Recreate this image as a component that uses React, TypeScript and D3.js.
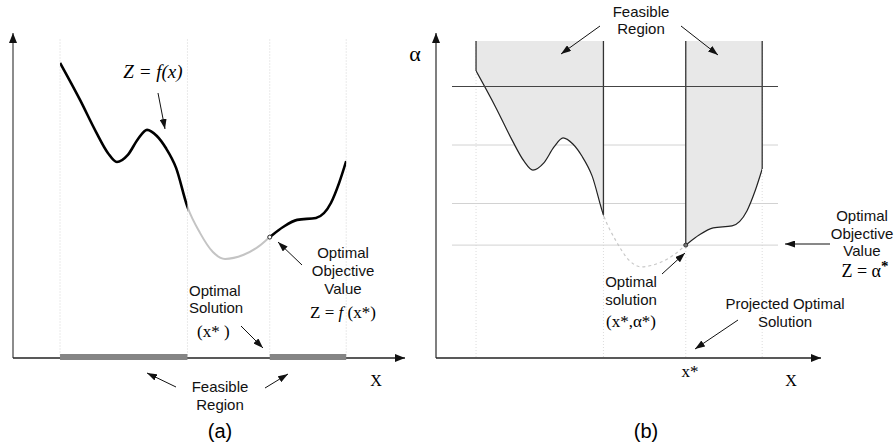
import * as d3 from "d3";

// curve z = f(x), abstract units 0..100 on both axes
const curveX = [12, 17.1, 21.2, 24.2, 26.5, 29.3, 31.9, 34.2, 36.7, 39.0, 41.6, 44.5, 47.7, 51.0, 54.1, 58.7, 62.5, 65.5, 68.9, 72.5, 77.3, 81.1, 83.2, 85];
const curveY = [90.8, 79.4, 69.5, 63.1, 60.3, 62.5, 67.4, 70.2, 68.3, 64.6, 58.5, 46.5, 38.5, 32.6, 30.5, 31.7, 34.2, 37.2, 40.3, 42.5, 43.1, 47.7, 53.9, 60.6];
const feasible: [number, number][] = [
  [12, 44.5],
  [65.5, 85],
];
const alphaLevels = [86, 68, 50];
const optimum = { x: 65.5, y: 37.2 };

const W = 896;
const H = 446;
const SANS = "'Liberation Sans', Arial, sans-serif";
const SERIF = "'Liberation Serif', 'Times New Roman', serif";

const points = curveX.map((x, i) => [x, curveY[i]] as [number, number]);
const yAt = (x: number) => (points.find(p => p[0] === x) as [number, number])[1];
const gap: [number, number] = [feasible[0][1], feasible[1][0]];

const xA = d3.scaleLinear().domain([0, 100]).range([13, 405]);
const yA = d3.scaleLinear().domain([0, 100]).range([358, 33]);
const xB = d3.scaleLinear().domain([0, 100]).range([429, 821]);
const yB = d3.scaleLinear().domain([0, 100]).range([366, 41]);

const lineA = d3
  .line<[number, number]>()
  .x(d => xA(d[0]))
  .y(d => yA(d[1]))
  .curve(d3.curveMonotoneX);
const lineB = d3
  .line<[number, number]>()
  .x(d => xB(d[0]))
  .y(d => yB(d[1]))
  .curve(d3.curveMonotoneX);
const areaB = d3
  .area<[number, number]>()
  .x(d => xB(d[0]))
  .y0(yB(100))
  .y1(d => yB(d[1]))
  .curve(d3.curveMonotoneX);

const Arrow = ({ x1, y1, x2, y2 }: { x1: number; y1: number; x2: number; y2: number }) => (
  <line x1={x1} y1={y1} x2={x2} y2={y2} stroke="#111" strokeWidth={1} markerEnd="url(#head)" />
);

const Lines = ({
  x,
  y,
  lines,
  anchor = "middle",
  step = 18,
}: {
  x: number;
  y: number;
  lines: string[];
  anchor?: string;
  step?: number;
}) => (
  <text x={x} y={y} fontFamily={SANS} fontSize={15} textAnchor={anchor} fill="#111">
    {lines.map((l, i) => (
      <tspan key={i} x={x} dy={i === 0 ? 0 : step}>
        {l}
      </tspan>
    ))}
  </text>
);

export default function App() {
  return (
    <svg
      width={W}
      height={H}
      style={{ position: "absolute", left: 0, top: 0, background: "#fff" }}
    >
      <defs>
        <marker id="head" viewBox="0 0 10 7" refX={10} refY={3.5} markerWidth={10} markerHeight={7} markerUnits="userSpaceOnUse" orient="auto">
          <path d="M0,0 L10,3.5 L0,7 Z" fill="#111" />
        </marker>
        <marker id="axisHead" viewBox="0 0 10 8" refX={10} refY={4} markerWidth={10} markerHeight={8} markerUnits="userSpaceOnUse" orient="auto">
          <path d="M0,0 L10,4 L0,8 Z" fill="#111" />
        </marker>
        <clipPath id="feasA">
          {feasible.map(([a, b], i) => (
            <rect key={i} x={xA(a)} y={0} width={xA(b) - xA(a)} height={H} />
          ))}
        </clipPath>
        <clipPath id="gapA">
          <rect x={xA(gap[0])} y={0} width={xA(gap[1]) - xA(gap[0])} height={H} />
        </clipPath>
        <clipPath id="feasB">
          {feasible.map(([a, b], i) => (
            <rect key={i} x={xB(a)} y={0} width={xB(b) - xB(a)} height={H} />
          ))}
        </clipPath>
        <clipPath id="gapB">
          <rect x={xB(gap[0])} y={0} width={xB(gap[1]) - xB(gap[0])} height={H} />
        </clipPath>
      </defs>

      {/* ---------- panel (a) ---------- */}
      {feasible.flat().map((v, i) => (
        <line key={i} x1={xA(v)} x2={xA(v)} y1={yA(98)} y2={yA(0)} stroke="#d4d4d4" strokeWidth={1} strokeDasharray="1,2" />
      ))}
      <line x1={xA(0)} y1={yA(0)} x2={xA(0)} y2={yA(100)} stroke="#666" strokeWidth={1.5} markerEnd="url(#axisHead)" />
      <line x1={xA(0)} y1={yA(0)} x2={xA(100)} y2={yA(0)} stroke="#222" strokeWidth={1.5} markerEnd="url(#axisHead)" />
      {feasible.map(([a, b], i) => (
        <rect key={i} x={xA(a)} y={yA(0) - 4} width={xA(b) - xA(a)} height={6} fill="#858585" />
      ))}
      <path d={lineA(points) as string} fill="none" stroke="#c4c4c4" strokeWidth={2} clipPath="url(#gapA)" />
      <path d={lineA(points) as string} fill="none" stroke="#000" strokeWidth={2.6} clipPath="url(#feasA)" />
      <circle cx={xA(optimum.x)} cy={yA(optimum.y)} r={2} fill="#fff" stroke="#222" strokeWidth={1} />

      <text x={153} y={78} fontFamily={SERIF} fontSize={19} fontStyle="italic" textAnchor="middle">
        Z = f(x)
      </text>
      <Arrow x1={158} y1={93} x2={165} y2={129} />

      <Lines x={343} y={258} lines={["Optimal", "Objective", "Value"]} />
      <text x={343} y={318} fontFamily={SERIF} fontSize={17} textAnchor="middle">
        Z = <tspan fontStyle="italic">f</tspan> (x*)
      </text>
      <Arrow x1={302} y1={265} x2={278} y2={242} />

      <Lines x={189} y={296} lines={["Optimal", "Solution"]} anchor="start" step={17} />
      <text x={197} y={337} fontFamily={SERIF} fontSize={17}>
        (x* )
      </text>
      <Arrow x1={241} y1={326} x2={263} y2={348} />

      <Lines x={220} y={392} lines={["Feasible", "Region"]} />
      <Arrow x1={176} y1={387} x2={147} y2={373} />
      <Arrow x1={265} y1={388} x2={288} y2={374} />

      <text x={376} y={386} fontFamily={SERIF} fontSize={16} textAnchor="middle">
        X
      </text>
      <text x={220} y={438} fontFamily={SANS} fontSize={20} textAnchor="middle">
        (a)
      </text>

      {/* ---------- panel (b) ---------- */}
      {feasible.flat().map((v, i) => (
        <line key={i} x1={xB(v)} x2={xB(v)} y1={yB(100)} y2={358} stroke="#dcdcdc" strokeWidth={1} strokeDasharray="1,2" />
      ))}
      {alphaLevels.slice(1).map((a, i) => (
        <line key={i} x1={452} x2={778} y1={yB(a)} y2={yB(a)} stroke="#d2d2d2" strokeWidth={1} />
      ))}
      <line x1={452} x2={778} y1={yB(optimum.y)} y2={yB(optimum.y)} stroke="#d2d2d2" strokeWidth={1} />

      <path d={areaB(points) as string} fill="#e8e8e8" stroke="none" clipPath="url(#feasB)" />
      <path d={lineB(points) as string} fill="none" stroke="#c8c8c8" strokeWidth={1.2} strokeDasharray="3,3" clipPath="url(#gapB)" />
      <path d={lineB(points) as string} fill="none" stroke="#222" strokeWidth={1.2} clipPath="url(#feasB)" />
      {feasible.flat().map((v, i) => (
        <line key={i} x1={xB(v)} x2={xB(v)} y1={yB(100)} y2={yB(yAt(v))} stroke="#333" strokeWidth={1.3} />
      ))}
      <line x1={452} x2={778} y1={yB(alphaLevels[0])} y2={yB(alphaLevels[0])} stroke="#444" strokeWidth={1.2} />
      <circle cx={xB(optimum.x)} cy={yB(optimum.y)} r={2} fill="#777" stroke="#333" strokeWidth={1} />

      <line x1={436} y1={358} x2={436} y2={33} stroke="#555" strokeWidth={1.5} markerEnd="url(#axisHead)" />
      <line x1={436} y1={358} x2={xB(100)} y2={358} stroke="#222" strokeWidth={1.5} markerEnd="url(#axisHead)" />

      <text x={415} y={61} fontFamily={SERIF} fontSize={22} textAnchor="middle">
        α
      </text>

      <Lines x={641} y={17} lines={["Feasible", "Region"]} step={17} />
      <Arrow x1={600} y1={26} x2={561} y2={54} />
      <Arrow x1={681} y1={26} x2={718} y2={55} />

      <Lines x={862} y={221} lines={["Optimal", "Objective", "Value"]} step={17.5} />
      <text x={865} y={277} fontFamily={SERIF} fontSize={18} textAnchor="middle">
        Z = α<tspan dy={-6} fontSize={15} fontWeight="bold">*</tspan>
      </text>
      <Arrow x1={830} y1={244} x2={785} y2={244} />

      <Lines x={631} y={287} lines={["Optimal", "solution"]} />
      <text x={631} y={327} fontFamily={SERIF} fontSize={17} textAnchor="middle">
        (x*,α*)
      </text>
      <Arrow x1={662} y1={274} x2={685} y2={253} />

      <Lines x={785} y={309} lines={["Projected Optimal", "Solution"]} />
      <Arrow x1={738} y1={320} x2={695} y2={349} />

      <text x={690} y={377} fontFamily={SERIF} fontSize={17} textAnchor="middle">
        x*
      </text>
      <text x={791} y={386} fontFamily={SERIF} fontSize={16} textAnchor="middle">
        X
      </text>
      <text x={646} y={438} fontFamily={SANS} fontSize={20} textAnchor="middle">
        (b)
      </text>
    </svg>
  );
}
